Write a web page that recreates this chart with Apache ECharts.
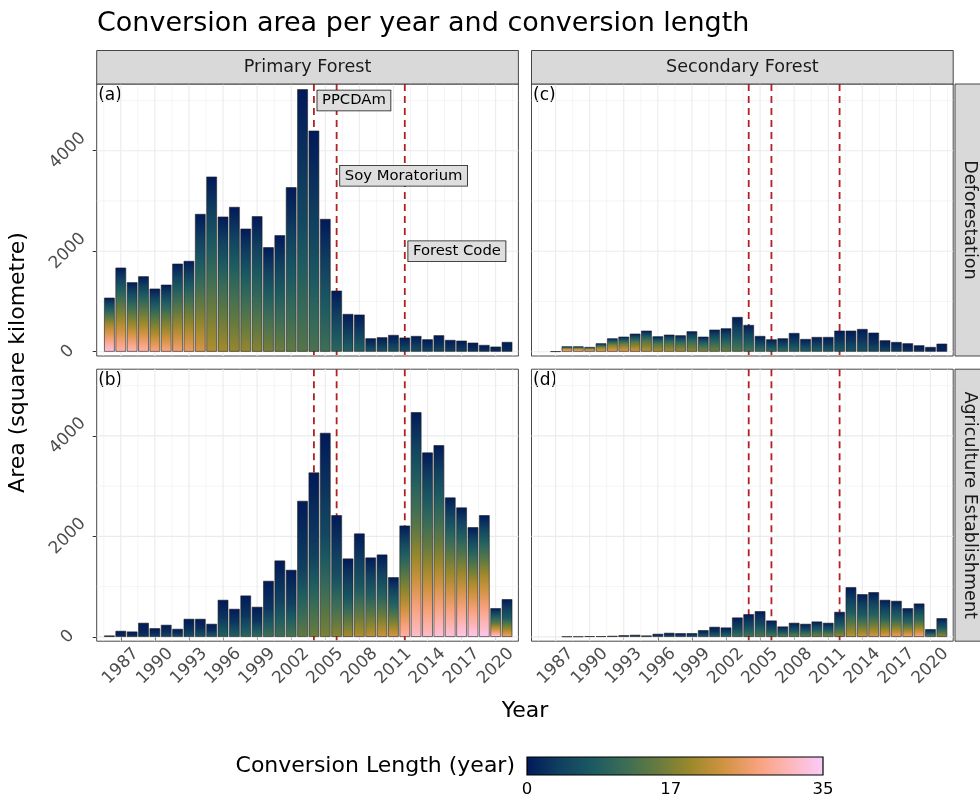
<!DOCTYPE html>
<html><head><meta charset="utf-8">
<script src="https://cdn.jsdelivr.net/npm/echarts@6/dist/echarts.min.js"></script>
<style>html,body{margin:0;padding:0;background:#fff}#chart{width:980px;height:796px}</style>
</head><body><div id="chart"></div>
<script>
// ---------------- DATA ----------------
const years = [1986,1987,1988,1989,1990,1991,1992,1993,1994,1995,1996,1997,1998,1999,2000,2001,2002,2003,2004,2005,2006,2007,2008,2009,2010,2011,2012,2013,2014,2015,2016,2017,2018,2019,2020,2021];

// (a) Primary Forest / Deforestation  (square kilometre)
const primaryDeforestation = [1074,1672,1381,1500,1254,1333,1751,1805,2740,3483,2687,2880,2448,2694,2078,2316,3272,5222,4398,2641,1214,750,737,266,286,332,279,312,246,326,233,219,179,133,100,193];
// (b) Primary Forest / Agriculture Establishment
const primaryAgriculture = [27,119,106,279,172,239,159,358,358,259,736,557,822,597,1114,1519,1333,2706,3270,4059,2421,1559,2056,1579,1638,1187,2215,4471,3668,3814,2773,2574,2182,2421,570,750];
// (c) Secondary Forest / Deforestation
const secondaryDeforestation = [null,5,106,106,93,166,265,298,358,418,305,338,325,405,298,438,464,690,531,312,245,265,371,252,292,292,418,418,451,378,226,192,166,126,93,159];
// (d) Secondary Forest / Agriculture Establishment
const secondaryAgriculture = [null,null,7,7,13,13,20,33,40,27,60,80,73,73,133,199,186,385,451,511,325,206,279,259,305,279,497,988,849,889,736,716,570,663,153,371];

// Conversion length (years) at mid-height and at the bottom of each stacked bar
const primaryDeforestationMidLen = [20,16,16,16,15,15,14,14,11,10,11,10,10,9,9,8,7,5,5,6,5,4,4,3,3,3,3,3,2,2,2,2,1,1,1,1];
const primaryDeforestationMaxLen = [33,30,31,30,28,28,27,26,24,21,20,19,19,18,17,16,15,14,13,12,10,9,9,7,7,7,6,6,5,5,4,4,3,3,2,2];
const primaryAgricultureMidLen = [0.5,1,1,1,1.5,2,2,2,2,2,3,3,3,3,3,4,4,4,4,5,6,7,7,9,9,10,16,14,15,15,18,19,20,20,14,8];
const primaryAgricultureMaxLen = [1,2,3,3,4,5,6,6,7,8,9,9,10,11,12,12,13,15,16,17,18,20,21,22,23,24,30,32,32,33,33,34,34,34,33,27];
const secondaryDeforestationMidLen = [0,20,22,22,21,18,17,16,15,14,14,13,12,11,10,9,8,6,6,5,5,5,4,4,4,3,3,3,3,2,2,2,1,1,1,1];
const secondaryDeforestationMaxLen = [0,30,29,28,27,26,26,25,24,22,21,21,20,19,18,17,16,14,13,12,11,11,10,9,9,8,8,7,7,6,5,4,3,3,2,1];
const secondaryAgricultureMidLen = [0,0,1,1,1,1,1,2,2,2,2,2,2,3,3,3,4,4,5,5,5,6,6,6,7,7,7,8,8,9,9,10,10,11,6,7];
const secondaryAgricultureMaxLen = [0,0,2,3,3,4,4,5,6,6,7,7,8,8,9,10,11,12,13,14,14,15,16,16,17,18,19,22,23,24,25,26,27,28,16,19];

const xTickYears = [1987,1990,1993,1996,1999,2002,2005,2008,2011,2014,2017,2020];
const xMinorYears = [1985.5,1988.5,1991.5,1994.5,1997.5,2000.5,2003.5,2006.5,2009.5,2012.5,2015.5,2018.5,2021.5];
const yTicks = [0,2000,4000];
const yMinor = [1000,3000,5000];

const eventYears = [2004,2006,2012];
const eventNames = ['PPCDAm','Soy Moratorium','Forest Code'];
const eventLabelY = [5000,3500,2000];

const colorbarTicks = [0,17,35];
const maxLen = 35;

// ---------------- STYLE / LAYOUT ----------------
const FONT = '"DejaVu Sans", "Liberation Sans", sans-serif';
const batlow = ['#011959','#103F60','#1C5A62','#3C6D56','#687B3E','#9D892B','#D29343','#F8A17B','#FDB7BC','#FACCFA'];
const rgbs = batlow.map(h=>[parseInt(h.slice(1,3),16),parseInt(h.slice(3,5),16),parseInt(h.slice(5,7),16)]);
function cmap(t){
  t = Math.max(0, Math.min(1, t));
  const n = rgbs.length-1, p = t*n, i = Math.min(n-1, Math.floor(p)), f = p-i;
  const a = rgbs[i], b = rgbs[i+1];
  return 'rgb(' + [0,1,2].map(k=>Math.round(a[k]+(b[k]-a[k])*f)).join(',') + ')';
}
function lenAt(d, mid, bot){ return d <= 0.5 ? mid*d/0.5 : mid + (bot-mid)*(d-0.5)/0.5; }
function barGradient(mid, bot){
  const stops = [];
  const N = 20;
  for (let i=0;i<=N;i++){ const d=i/N; stops.push({offset:d, color: cmap(lenAt(d, mid, bot)/maxLen)}); }
  return new echarts.graphic.LinearGradient(0,0,0,1,stops);
}

const PL = [96.7, 531.5];
const PW = 421.7;
const PT = [84, 369.2];
const PH = 272;
const xMin = 1984.88, xMax = 2022.0;
const yMin = -86, yMax = 5327;
const pxPerYear = PW/(xMax-xMin);
const barW = 0.93*pxPerYear;
const AXIS_FS = 17;

const panels = [
  {vals: primaryDeforestation, mid: primaryDeforestationMidLen, bot: primaryDeforestationMaxLen, col:0, row:0, tag:'(a)'},
  {vals: primaryAgriculture, mid: primaryAgricultureMidLen, bot: primaryAgricultureMaxLen, col:0, row:1, tag:'(b)'},
  {vals: secondaryDeforestation, mid: secondaryDeforestationMidLen, bot: secondaryDeforestationMaxLen, col:1, row:0, tag:'(c)'},
  {vals: secondaryAgriculture, mid: secondaryAgricultureMidLen, bot: secondaryAgricultureMaxLen, col:1, row:1, tag:'(d)'}
];

const grids=[], xAxes=[], yAxes=[], series=[], graphics=[];
panels.forEach((p, i)=>{
  const bottomRow = p.row===1, leftCol = p.col===0;
  grids.push({left: PL[p.col], top: PT[p.row], width: PW, height: PH, show: true,
    backgroundColor:'#fff', borderColor:'#333', borderWidth:0.9, containLabel:false});
  xAxes.push({type:'value', gridIndex:i, min:xMin, max:xMax,
    axisLine:{show:false}, splitLine:{show:false},
    axisTick:{show:bottomRow, customValues:xTickYears, length:4, lineStyle:{color:'#333', width:1}},
    axisLabel:{show:bottomRow, customValues:xTickYears, rotate:45, margin:25, align:'center', verticalAlign:'middle',
      color:'#4d4d4d', fontSize:AXIS_FS, fontFamily:FONT, formatter:v=>String(v)}
  });
  yAxes.push({type:'value', gridIndex:i, min:yMin, max:yMax,
    axisLine:{show:false}, splitLine:{show:false},
    axisTick:{show:leftCol, customValues:yTicks, length:4, lineStyle:{color:'#333', width:1}},
    axisLabel:{show:leftCol, customValues:yTicks, rotate:45, margin:29, align:'center', verticalAlign:'middle',
      color:'#4d4d4d', fontSize:AXIS_FS, fontFamily:FONT, formatter:v=>String(v)}
  });
  // grid lines
  series.push({type:'custom', xAxisIndex:i, yAxisIndex:i, z:1, silent:true, clip:false,
    data: xTickYears.map(v=>[v,0,1]).concat(xMinorYears.map(v=>[v,0,0])),
    encode:{x:0,y:1},
    renderItem:(params, api)=>{ const cs=params.coordSys; const x=api.coord([api.value(0),0])[0];
      return {type:'line', silent:true, shape:{x1:x,y1:cs.y,x2:x,y2:cs.y+cs.height}, style:{stroke:'#ebebeb', lineWidth: api.value(2)?1.1:0.55}}; }
  });
  series.push({type:'custom', xAxisIndex:i, yAxisIndex:i, z:1, silent:true, clip:false,
    data: yTicks.map(v=>[2000,v,1]).concat(yMinor.map(v=>[2000,v,0])),
    encode:{x:0,y:1},
    renderItem:(params, api)=>{ const cs=params.coordSys; const y=api.coord([2000,api.value(1)])[1];
      return {type:'line', silent:true, shape:{x1:cs.x,y1:y,x2:cs.x+cs.width,y2:y}, style:{stroke:'#ebebeb', lineWidth: api.value(2)?1.1:0.55}}; }
  });
  // policy lines
  series.push({type:'custom', xAxisIndex:i, yAxisIndex:i, z:2, silent:true, clip:false,
    data: eventYears.map(v=>[v,0]),
    encode:{x:0,y:1},
    renderItem:(params, api)=>{ const cs=params.coordSys; const x=api.coord([api.value(0),0])[0];
      return {type:'line', silent:true, shape:{x1:x,y1:cs.y,x2:x,y2:cs.y+cs.height}, style:{stroke:'#b22222', lineWidth:1.8, lineDash:[7,5]}}; }
  });
  // bars
  const data = [];
  years.forEach((y,k)=>{ if (p.vals[k]!=null) data.push({value:[y, p.vals[k]], itemStyle:{color: barGradient(p.mid[k], p.bot[k])}}); });
  series.push({type:'bar', xAxisIndex:i, yAxisIndex:i, z:3, barWidth:barW, data,
    itemStyle:{borderColor:'#1f1f1f', borderWidth:0.6}, silent:true});
  // tag
  graphics.push({type:'text', left: PL[p.col]+1.5, top: PT[p.row]+3, style:{text:p.tag, font:'17px '+FONT, fill:'#000'}});
});

// event labels (panel a)
series.push({type:'custom', xAxisIndex:0, yAxisIndex:0, z:5, silent:true, clip:false,
  data: eventYears.map((y,i)=>[y, eventLabelY[i], i]),
  encode:{x:0,y:1},
  renderItem:(params, api)=>{ const pt=api.coord([api.value(0), api.value(1)]); const i=api.value(2);
    return {type:'text', x:pt[0]+3.5, y:pt[1], silent:true,
      style:{text:eventNames[i], font:'14.8px '+FONT, fill:'#000', align:'left', verticalAlign:'middle',
        backgroundColor:'#dedede', borderColor:'#111', borderWidth:0.8, padding:[2.5,4.6,2.5,4.6]}}; }
});

// strips
const stripText = ['Primary Forest','Secondary Forest'];
[0,1].forEach(c=>{
  graphics.push({type:'rect', shape:{x:PL[c], y:50.5, width:PW, height:33.5}, style:{fill:'#d9d9d9', stroke:'#333', lineWidth:0.9}, z:10});
  graphics.push({type:'text', x:PL[c]+PW/2, y:67.5, style:{text:stripText[c], font:'17.6px '+FONT, fill:'#1a1a1a', align:'center', verticalAlign:'middle'}, z:11});
});
const rowText = ['Deforestation','Agriculture Establishment'];
[0,1].forEach(r=>{
  graphics.push({type:'rect', shape:{x:955, y:PT[r], width:40, height:PH}, style:{fill:'#d9d9d9', stroke:'#333', lineWidth:0.9}, z:10});
  graphics.push({type:'text', x:970, y:PT[r]+PH/2, rotation:-Math.PI/2, style:{text:rowText[r], font:'17.6px '+FONT, fill:'#1a1a1a', align:'center', verticalAlign:'middle'}, z:11});
});

// titles
graphics.push({type:'text', x:97, y:24, style:{text:'Conversion area per year and conversion length', font:'27px '+FONT, fill:'#000', verticalAlign:'middle'}});
graphics.push({type:'text', x:525, y:711, style:{text:'Year', font:'22px '+FONT, fill:'#000', align:'center', verticalAlign:'middle'}});
graphics.push({type:'text', x:18.5, y:362.5, rotation:Math.PI/2, style:{text:'Area (square kilometre)', font:'22px '+FONT, fill:'#000', align:'center', verticalAlign:'middle'}});

// colour bar legend
const cbX=527, cbY=757, cbW=296, cbH=18;
graphics.push({type:'text', x:515, y:766, style:{text:'Conversion Length (year)', font:'22px '+FONT, fill:'#000', align:'right', verticalAlign:'middle'}});
graphics.push({type:'rect', shape:{x:cbX, y:cbY, width:cbW, height:cbH},
  style:{fill:new echarts.graphic.LinearGradient(0,0,1,0, batlow.map((c,k)=>({offset:k/(batlow.length-1), color:c}))), stroke:'#000', lineWidth:1.2}});
colorbarTicks.forEach(v=>{
  graphics.push({type:'text', x:cbX+cbW*v/maxLen, y:790, style:{text:String(v), font:'16.5px '+FONT, fill:'#000', align:'center', verticalAlign:'middle'}});
});

const chart = echarts.init(document.getElementById('chart'), null, {renderer:'canvas'});
chart.setOption({animation:false, backgroundColor:'#fff', grid:grids, xAxis:xAxes, yAxis:yAxes, series, graphic:graphics});
</script></body></html>
